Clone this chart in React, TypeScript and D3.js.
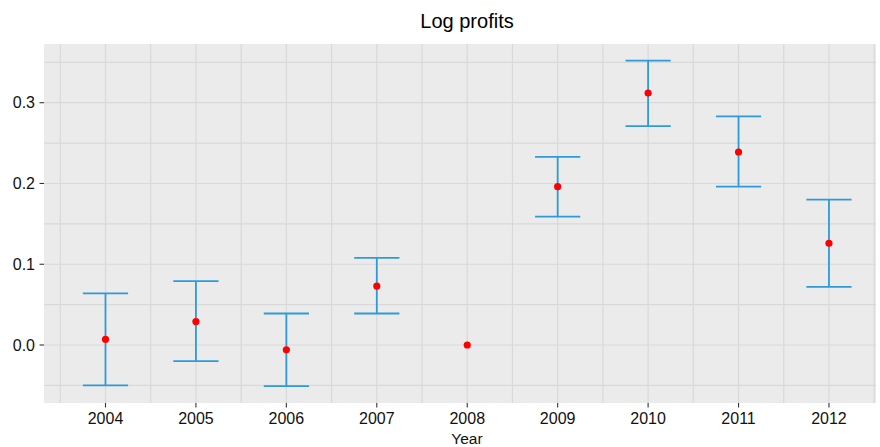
import React from "react";
import * as d3 from "d3";

const years = [2004, 2005, 2006, 2007, 2008, 2009, 2010, 2011, 2012];
const means = [0.007, 0.029, -0.006, 0.073, 0.0, 0.196, 0.312, 0.239, 0.126];
const upper = [0.064, 0.079, 0.039, 0.108, null, 0.233, 0.352, 0.283, 0.18];
const lower = [-0.05, -0.02, -0.051, 0.039, null, 0.159, 0.271, 0.196, 0.072];
const yTicks = [0.0, 0.1, 0.2, 0.3];
const yMinor = [-0.05, 0.05, 0.15, 0.25, 0.35];

const W = 880;
const H = 447;
const panel = { left: 44, right: 876, top: 44, bottom: 403 };

const App = () => {
  const x = d3.scaleLinear().domain([2003.32, 2012.52]).range([panel.left, panel.right]);
  const y = d3.scaleLinear().domain([-0.0718, 0.3727]).range([panel.bottom, panel.top]);
  const xMinor = years.map(d => d - 0.5).concat([years[years.length - 1] + 0.5]);
  const font = "Liberation Sans, Arial, Helvetica, sans-serif";
  const barColor = "#2e9bd8";
  const halfW = 0.25;

  return (
    <svg width={W} height={H} style={{ position: "absolute", left: 0, top: 0 }} fontFamily={font}>
      <rect x={0} y={0} width={W} height={H} fill="white" />
      <rect
        x={panel.left}
        y={panel.top}
        width={panel.right - panel.left}
        height={panel.bottom - panel.top}
        fill="#ebebeb"
      />
      <g stroke="#d9d9d9" strokeWidth={1.2}>
        {yMinor.map(v => (
          <line key={"ym" + v} x1={panel.left} x2={panel.right} y1={y(v)} y2={y(v)} />
        ))}
        {yTicks.map(v => (
          <line key={"y" + v} x1={panel.left} x2={panel.right} y1={y(v)} y2={y(v)} />
        ))}
        {xMinor.map(v => (
          <line key={"xm" + v} x1={x(v)} x2={x(v)} y1={panel.top} y2={panel.bottom} />
        ))}
        {years.map(v => (
          <line key={"x" + v} x1={x(v)} x2={x(v)} y1={panel.top} y2={panel.bottom} />
        ))}
      </g>

      {years.map((yr, i) => {
        const hi = upper[i];
        const lo = lower[i];
        if (hi == null || lo == null) return null;
        return (
          <g key={"eb" + yr} stroke={barColor} strokeWidth={1.8} fill="none">
            <line x1={x(yr)} x2={x(yr)} y1={y(hi)} y2={y(lo)} />
            <line x1={x(yr - halfW)} x2={x(yr + halfW)} y1={y(hi)} y2={y(hi)} />
            <line x1={x(yr - halfW)} x2={x(yr + halfW)} y1={y(lo)} y2={y(lo)} />
          </g>
        );
      })}

      {years.map((yr, i) => (
        <circle key={"pt" + yr} cx={x(yr)} cy={y(means[i])} r={3.6} fill="#ff0000" />
      ))}

      {/* y axis */}
      {yTicks.map(v => (
        <g key={"yt" + v}>
          <line x1={panel.left - 4.5} x2={panel.left} y1={y(v)} y2={y(v)} stroke="#333" strokeWidth={1.1} />
          <text
            x={panel.left - 9}
            y={y(v)}
            dy="0.36em"
            textAnchor="end"
            fontSize={16}
            fill="#111"
          >
            {d3.format(".1f")(v)}
          </text>
        </g>
      ))}

      {/* x axis */}
      {years.map(v => (
        <g key={"xt" + v}>
          <line x1={x(v)} x2={x(v)} y1={panel.bottom} y2={panel.bottom + 4.5} stroke="#333" strokeWidth={1.1} />
          <text x={x(v)} y={424} textAnchor="middle" fontSize={16} fill="#111">
            {v}
          </text>
        </g>
      ))}

      <text x={467} y={444} textAnchor="middle" fontSize={15.5} fill="#111">
        Year
      </text>
      <text x={467} y={28} textAnchor="middle" fontSize={20} fill="#000">
        Log profits
      </text>
    </svg>
  );
};

export default App;
